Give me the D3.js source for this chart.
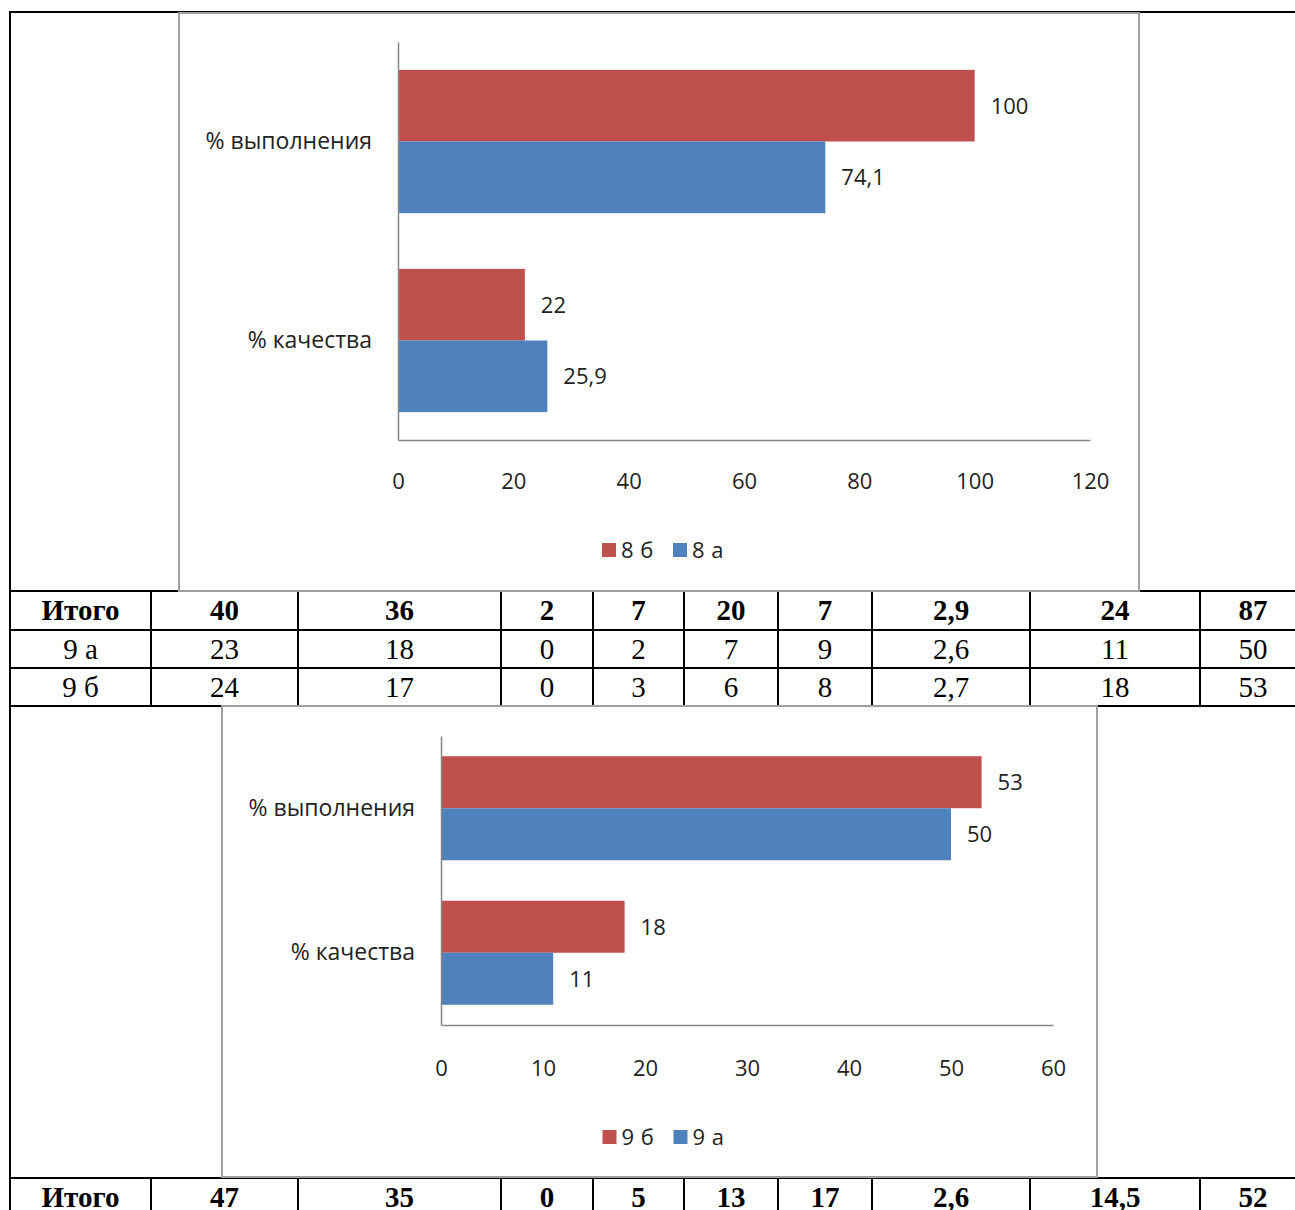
<!DOCTYPE html>
<html><head><meta charset="utf-8">
<script src="https://cdn.jsdelivr.net/npm/d3@7"></script>
<style>
html,body{margin:0;padding:0;background:#fff;overflow:hidden;}
</style></head>
<body>
<script>
// ---------- DATA ----------
const categories = ["% выполнения", "% качества"];
const chart1Series = ["8 б", "8 а"];
const chart1Values8b = [100, 22];
const chart1Values8a = [74.1, 25.9];
const chart1Ticks = [0, 20, 40, 60, 80, 100, 120];

const chart2Series = ["9 б", "9 а"];
const chart2Values9b = [53, 18];
const chart2Values9a = [50, 11];
const chart2Ticks = [0, 10, 20, 30, 40, 50, 60];

const tableTotal8 = ["Итого", "40", "36", "2", "7", "20", "7", "2,9", "24", "87"];
const table9a = ["9 а", "23", "18", "0", "2", "7", "9", "2,6", "11", "50"];
const table9b = ["9 б", "24", "17", "0", "3", "6", "8", "2,7", "18", "53"];
const tableTotal9 = ["Итого", "47", "35", "0", "5", "13", "17", "2,6", "14,5", "52"];

// ---------- LAYOUT ----------
const W = 1295, H = 1210;
const RED = "#C0504D", BLUE = "#4F81BD";
const colEdges = [10, 151, 298, 501, 593, 684, 778, 872, 1030, 1200, 1306];
const CHART_FONT = "'Open Sans', 'Liberation Sans', sans-serif";
const TABLE_FONT = "'Liberation Serif', 'Times New Roman', serif";

const svg = d3.select("body").append("svg")
  .attr("width", W).attr("height", H)
  .style("display", "block");

// ---------- TABLE ----------
const tbl = svg.append("g");
function hline(y) {
  tbl.append("line").attr("x1", 9).attr("x2", W).attr("y1", y).attr("y2", y)
    .attr("stroke", "#000").attr("stroke-width", 2);
}
function vlines(y1, y2) {
  colEdges.slice(1, -1).forEach(x => {
    tbl.append("line").attr("x1", x).attr("x2", x).attr("y1", y1).attr("y2", y2)
      .attr("stroke", "#000").attr("stroke-width", 2);
  });
}
function row(values, top, bold) {
  tbl.append("g").selectAll("text").data(values).join("text")
    .attr("x", (d, i) => (colEdges[i] + colEdges[i + 1]) / 2)
    .attr("y", top + 28.5)
    .attr("text-anchor", "middle")
    .attr("font-family", TABLE_FONT)
    .attr("font-size", 29)
    .attr("font-weight", bold ? "bold" : "normal")
    .attr("fill", "#000")
    .text(d => d);
}
hline(12);
tbl.append("line").attr("x1", 10).attr("x2", 10).attr("y1", 11).attr("y2", H)
  .attr("stroke", "#000").attr("stroke-width", 2);
[591, 630, 668, 706, 1178].forEach(hline);
vlines(591, 706);
vlines(1178, H);
row(tableTotal8, 591, true);
row(table9a, 630, false);
row(table9b, 668, false);
row(tableTotal9, 1178, true);

// ---------- CHARTS ----------
function drawChart(opt) {
  const g = svg.append("g");
  g.append("rect")
    .attr("x", opt.box[0]).attr("y", opt.box[1])
    .attr("width", opt.box[2] - opt.box[0]).attr("height", opt.box[3] - opt.box[1])
    .attr("fill", "#fff").attr("stroke", "#A0A0A0").attr("stroke-width", 2);

  const x = d3.scaleLinear().domain([0, opt.ticks[opt.ticks.length - 1]])
    .range([opt.plot.x0, opt.plot.x1]);
  const y = d3.scaleBand().domain(categories)
    .range([opt.plot.y0, opt.plot.y1]).paddingInner(0.28).paddingOuter(0.14);
  const inner = d3.scaleBand().domain([0, 1]).range([0, y.bandwidth()]);

  const seriesVals = [opt.valuesTop, opt.valuesBottom];
  const colors = [RED, BLUE];

  seriesVals.forEach((vals, si) => {
    g.append("g").selectAll("rect").data(vals).join("rect")
      .attr("x", x(0))
      .attr("y", (d, i) => y(categories[i]) + inner(si))
      .attr("width", d => x(d) - x(0))
      .attr("height", inner.bandwidth())
      .attr("fill", colors[si]);
    g.append("g").selectAll("text").data(vals).join("text")
      .attr("x", d => x(d) + 16)
      .attr("y", (d, i) => y(categories[i]) + inner(si) + inner.bandwidth() / 2)
      .attr("dy", "0.36em")
      .attr("font-family", CHART_FONT)
      .attr("font-size", 22)
      .attr("fill", "#222")
      .text(d => String(d).replace(".", ","));
  });

  const xa = g.append("g").attr("transform", `translate(0,${opt.plot.y1})`)
    .call(d3.axisBottom(x).tickValues(opt.ticks).tickSize(0).tickSizeOuter(0)
      .tickPadding(opt.tickPad).tickFormat(d => String(d)));
  xa.select(".domain").attr("stroke", "#868686").attr("stroke-width", 1.5);
  xa.selectAll("text").attr("font-family", CHART_FONT).attr("font-size", 22).attr("fill", "#222");

  const ya = g.append("g").attr("transform", `translate(${opt.plot.x0},0)`)
    .call(d3.axisLeft(y).tickSize(0).tickSizeOuter(0).tickPadding(26));
  ya.select(".domain").attr("stroke", "#868686").attr("stroke-width", 1.5);
  ya.selectAll("text").attr("font-family", CHART_FONT).attr("font-size", 23).attr("fill", "#222");

  const cx = (opt.box[0] + opt.box[2]) / 2;
  const lg = g.append("g");
  const items = [{ name: opt.names[0], color: RED, x: cx - 57 }, { name: opt.names[1], color: BLUE, x: cx + 14 }];
  items.forEach(it => {
    lg.append("rect").attr("x", it.x).attr("y", opt.legendY - 7).attr("width", 14).attr("height", 14)
      .attr("fill", it.color);
    lg.append("text").attr("x", it.x + 19).attr("y", opt.legendY).attr("dy", "0.36em")
      .attr("font-family", CHART_FONT).attr("font-size", 22).attr("letter-spacing", 0.5).attr("fill", "#222")
      .text(it.name);
  });
}

drawChart({
  box: [179, 13, 1139, 591],
  plot: { x0: 398, x1: 1090, y0: 42, y1: 440 },
  ticks: chart1Ticks,
  valuesTop: chart1Values8b,
  valuesBottom: chart1Values8a,
  names: chart1Series,
  tickPad: 33,
  legendY: 550
});

drawChart({
  box: [222, 706, 1097, 1177],
  plot: { x0: 441, x1: 1053, y0: 736, y1: 1025 },
  ticks: chart2Ticks,
  valuesTop: chart2Values9b,
  valuesBottom: chart2Values9a,
  names: chart2Series,
  tickPad: 35,
  legendY: 1137
});

hline(591); hline(706); hline(1178);
</script>
</body></html>
